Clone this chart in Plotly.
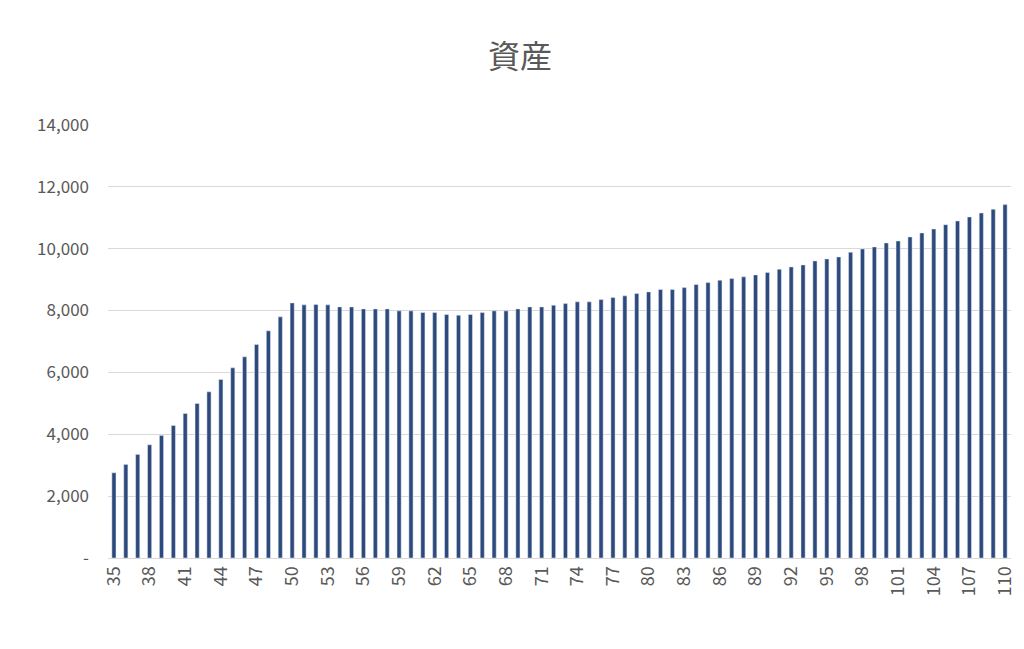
import plotly.graph_objects as go

ages = list(range(35, 111))
assets = [2756, 3025, 3349, 3660, 3962, 4285, 4672, 4995, 5373, 5771, 6148, 6503, 6901, 7343, 7795,
          8247, 8183, 8194, 8183, 8118, 8118, 8053, 8053, 8053, 7989, 7989, 7935, 7935, 7871, 7850,
          7871, 7935, 7989, 7989, 8053, 8118,
          8118, 8172, 8224, 8280, 8280, 8354, 8419, 8474, 8548, 8603, 8678, 8678, 8742, 8840, 8904,
          8979, 9033, 9088, 9152, 9227, 9335, 9410, 9475, 9604, 9669, 9733, 9884, 9991, 10056, 10185,
          10250, 10379, 10508, 10637, 10777, 10896, 11025, 11154, 11273, 11424]
assets = assets[:36] + assets[37:] if len(assets) == 77 else assets

x_labels = [str(a) for a in ages]
tick_labels = [str(a) for a in ages[::3]]
y_ticks = [0, 2000, 4000, 6000, 8000, 10000, 12000, 14000]
y_labels = ["-" if v == 0 else f"{v:,}" for v in y_ticks]

fig = go.Figure(go.Bar(x=x_labels, y=assets, marker_color="#2E4A7D"))
fig.update_layout(
    width=1024, height=649,
    paper_bgcolor="white", plot_bgcolor="white",
    margin=dict(l=100, r=21, t=116, b=99),
    bargap=0.65,
    showlegend=False,
    title=dict(text="資産", x=0.5, xanchor="center", y=0.925, yanchor="middle",
               font=dict(family="Noto Sans CJK JP", size=32, color="#595959")),
    font=dict(family="Noto Sans CJK JP", size=17, color="#595959"),
)
fig.update_xaxes(type="category", tickmode="array", tickvals=tick_labels, ticktext=tick_labels,
                 tickangle=-90, showline=True, linecolor="#D9D9D9", ticks="", showgrid=False,
                 tickfont=dict(size=18))
fig.update_yaxes(range=[0, 14030], tickmode="array", tickvals=y_ticks, ticktext=y_labels,
                 showgrid=True, gridcolor="#D9D9D9", zeroline=False, ticks="", ticklabelstandoff=18)
fig.write_html("out.html")
